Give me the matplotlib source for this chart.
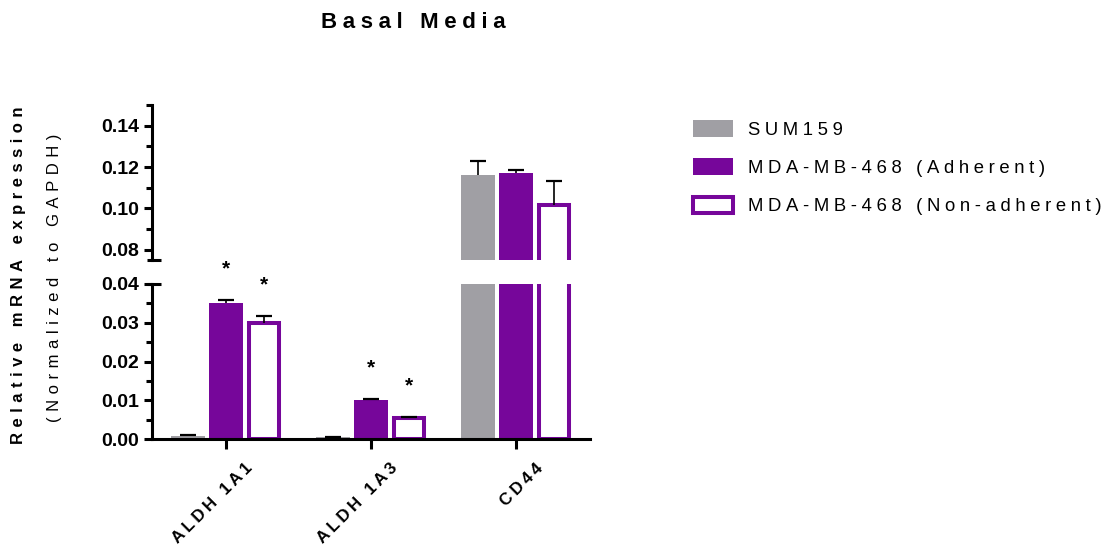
import numpy as np
import matplotlib
matplotlib.use("Agg")
import matplotlib.pyplot as plt
from matplotlib.patches import Patch
from matplotlib.ticker import MultipleLocator
from matplotlib.transforms import ScaledTranslation

plt.rcParams['font.family'] = ['Liberation Sans', 'DejaVu Sans']

# data
genes = ["ALDH 1A1", "ALDH 1A3", "CD44"]
series = ["SUM159", "MDA-MB-468 (Adherent)", "MDA-MB-468 (Non-adherent)"]
sum159 = [0.0009, 0.0005, 0.1159]
sum159_err = [0.0001, 0.0001, 0.0068]
adherent = [0.0352, 0.0100, 0.1170]
adherent_err = [0.0007, 0.0004, 0.0017]
nonadh = [0.0299, 0.0053, 0.1016]
nonadh_err = [0.0019, 0.0005, 0.0114]
# significance stars (series index, gene index)
stars = [(1, 0), (2, 0), (1, 1), (2, 1)]

GRAY = '#A09FA4'
PURPLE = '#76069A'


def spaced(s, sep='\u2009'):
    # Prism style letter spacing
    return sep.join(s)


fig = plt.figure(figsize=(11.1, 5.48), dpi=100)
W, H = 1110, 548
left, right = 151.7 / W, 590 / W
ax_top = fig.add_axes([left, 1 - 260 / H, right - left, 155 / H])
ax_bot = fig.add_axes([left, 1 - 439 / H, right - left, 155 / H])

x = np.arange(len(genes))
bw = 0.234
off = 0.262
lw_open = 2.9
shrink = (lw_open / 72 * 100) / 145  # keep outer edge same width as filled bars

vals = [sum159, adherent, nonadh]
errs = [sum159_err, adherent_err, nonadh_err]

for ax in (ax_top, ax_bot):
    ax.bar(x - off, sum159, bw, color=GRAY, zorder=2)
    ax.bar(x, adherent, bw, color=PURPLE, zorder=2)
    ax.bar(x + off, nonadh, bw - shrink, facecolor='white', edgecolor=PURPLE,
           linewidth=lw_open, zorder=2)
    for i, (v, e) in enumerate(zip(vals, errs)):
        xs = x + (i - 1) * off
        tops = np.array(v) + np.array(e)
        ax.vlines(xs, v, tops, color='black', lw=1.2, zorder=3)
        ax.plot(xs, tops, ls='none', marker='_', ms=11, mew=1.6, color='black', zorder=3)
    ax.set_xlim(-0.51, 2.51)
    for s in ('top', 'right'):
        ax.spines[s].set_visible(False)
    ax.spines['left'].set_linewidth(2.2)
    ax.tick_params(axis='y', which='major', length=6, width=2.2, labelsize=14, pad=3)
    ax.tick_params(axis='y', which='minor', length=4, width=2.2)

ax_top.set_ylim(0.075, 0.15)
ax_top.yaxis.set_minor_locator(MultipleLocator(0.01))
ax_top.set_yticks([0.08, 0.10, 0.12, 0.14])
ax_top.set_yticklabels(['0.08', '0.10', '0.12', '0.14'], fontweight='bold')
ax_top.spines['bottom'].set_visible(False)
ax_top.set_xticks([])

ax_bot.set_ylim(0, 0.04)
ax_bot.set_yticks([0, 0.01, 0.02, 0.03, 0.04])
ax_bot.set_yticklabels(['0.00', '0.01', '0.02', '0.03', '0.04'], fontweight='bold')
ax_bot.yaxis.set_minor_locator(MultipleLocator(0.005))
ax_bot.spines['bottom'].set_linewidth(2.2)
ax_bot.set_xticks(x)
ax_bot.set_xticklabels([spaced(g) for g in genes], rotation=45, ha='right', va='top',
                       rotation_mode='anchor', fontsize=12.2, fontweight='bold')
ax_bot.tick_params(axis='x', length=7, width=2.2, pad=4)
shift = ScaledTranslation(19 / 100, -6 / 100, fig.dpi_scale_trans)
for lab in ax_bot.get_xticklabels():
    lab.set_transform(lab.get_transform() + shift)

# break caps across the spine
for ax, yy in ((ax_top, 0), (ax_bot, 1)):
    ax.plot([-5 / 438, 9 / 438], [yy, yy], transform=ax.transAxes, color='black',
            lw=2.2, clip_on=False, solid_capstyle='butt')

# significance stars
for si, gi in stars:
    top = vals[si][gi] + errs[si][gi]
    ax_bot.annotate('*', (x[gi] + (si - 1) * off, top), xytext=(0, 22),
                    textcoords='offset points', ha='center', va='center',
                    fontsize=15, fontweight='bold', annotation_clip=False)

# axis labels and title
fig.text(19 / W, 1 - 275 / H, spaced("Relative mRNA expression", '\u2004'), rotation=90,
         ha='center', va='center', fontsize=12, fontweight='bold')
fig.text(55 / W, 1 - 278 / H, spaced("(Normalized to GAPDH)", '\u2004'), rotation=90,
         ha='center', va='center', fontsize=12)
fig.text(413 / W, 1 - 22 / H, spaced("Basal Media", '\u2005'), ha='center', va='center',
         fontsize=16, fontweight='bold')

handles = [Patch(facecolor=GRAY), Patch(facecolor=PURPLE),
           Patch(facecolor='white', edgecolor=PURPLE, linewidth=lw_open)]
fig.legend(handles, [spaced(s, '\u2005') for s in series], loc='upper left',
           bbox_to_anchor=(693 / W, 1 - 120 / H), frameon=False, fontsize=13.3,
           handlelength=2.15, handleheight=1.0, labelspacing=1.07,
           handletextpad=0.85, borderpad=0, borderaxespad=0)

fig.savefig('out.png', dpi=100)
